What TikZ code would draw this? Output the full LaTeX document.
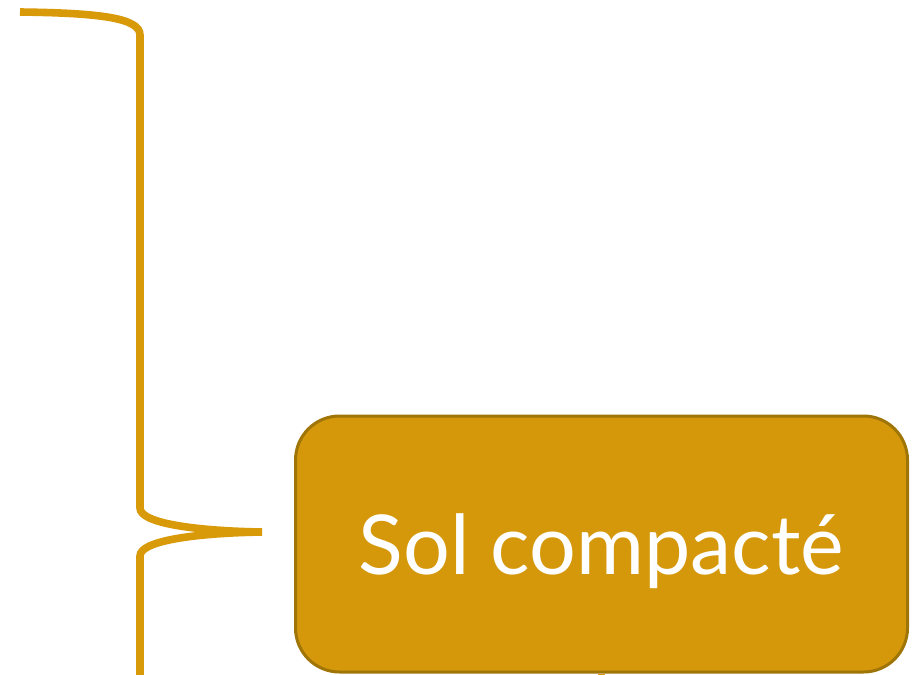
\documentclass[tikz,border=0pt]{standalone}
\usepackage{fontspec}
\setmainfont{Lato}
\definecolor{brace}{HTML}{D99A0A}
\definecolor{boxfill}{HTML}{D4980A}
\definecolor{boxline}{HTML}{A07508}
\tikzset{
  bracket/.style={draw=brace, line width=3.8pt},
  solbox/.style={draw=boxline, fill=boxfill, line width=1.5pt, rounded corners=22pt,
    minimum width=306pt, minimum height=128pt, text depth=0pt, text=white,
    font=\fontsize{41.3}{48}\selectfont}
}
\begin{document}
\begin{tikzpicture}[x=0.5pt,y=-0.5pt]
\useasboundingbox (0,0) rectangle (912,675);
\coordinate (top) at (20,12);
\coordinate (tip) at (262,532);
\coordinate (bottom) at (140,675);
\coordinate (stub) at (601.5,676);
\node (compacte) [solbox] at (601.5,544) {Sol compacté};
\draw [bracket] (compacte.south) -- (stub);
\draw [bracket] (top) .. controls (100,13) and (140,18) .. (140,35)
  -- (140,508) .. controls (140,524) and (200,531) .. (tip);
\draw [bracket] (tip) .. controls (200,533) and (140,540) .. (140,556) -- (bottom);
\end{tikzpicture}
\end{document}
